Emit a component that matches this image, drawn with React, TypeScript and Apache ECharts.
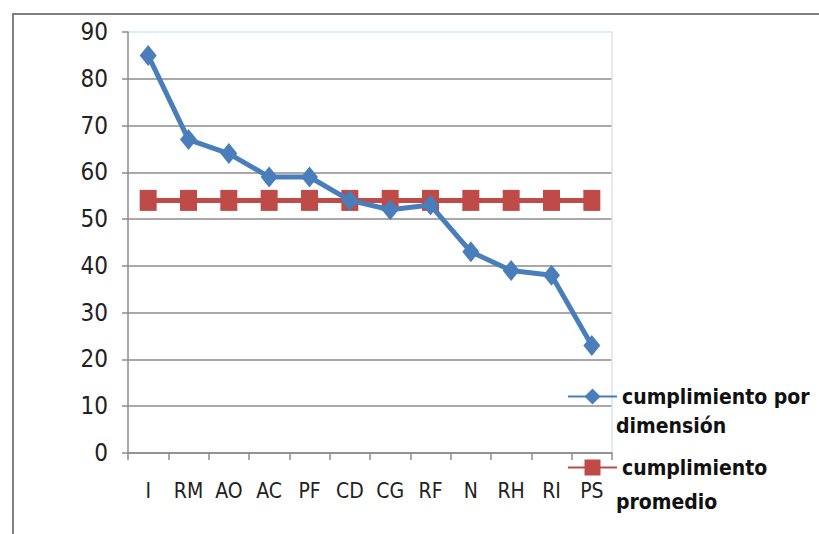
import React, { useEffect, useRef } from "react";
import * as echarts from "echarts";

const categories = ["I", "RM", "AO", "AC", "PF", "CD", "CG", "RF", "N", "RH", "RI", "PS"];
const cumplimientoPorDimension = [85, 67, 64, 59, 59, 54, 52, 53, 43, 39, 38, 23];
const cumplimientoPromedio = [54, 54, 54, 54, 54, 54, 54, 54, 54, 54, 54, 54];
const seriesNames = ["cumplimiento por dimensión", "cumplimiento promedio"];
const yTicks = { min: 0, max: 90, interval: 10 };

const FONT = "'Liberation Sans Narrow', 'DejaVu Sans Condensed', 'Open Sans', sans-serif";

export default function App() {
  const ref = useRef<HTMLDivElement>(null);
  useEffect(() => {
    document.body.style.margin = "0";
    const chart = echarts.init(ref.current!, null, { renderer: "svg" });
    const gridColors = ["#8c8c8c", "#8c8c8c", "#8c8c8c", "#8c8c8c", "#8c8c8c", "#8c8c8c", "#8c8c8c", "#8c8c8c", "#8c8c8c", "#d6e6ee"];
    const legendText = { fontFamily: FONT, fontSize: 21, fontWeight: "bold", color: "#111" };
    chart.setOption({
      animation: false,
      backgroundColor: "#ffffff",
      grid: { left: 128, top: 32, right: 207, bottom: 81 },
      legend: [
        {
          data: [seriesNames[0]],
          left: 562,
          top: 381,
          itemWidth: 49,
          itemHeight: 20,
          formatter: () => "cumplimiento por",
          textStyle: legendText,
        },
        {
          data: [seriesNames[1]],
          left: 562,
          top: 452,
          itemWidth: 49,
          itemHeight: 20,
          formatter: () => "cumplimiento",
          textStyle: legendText,
        },
      ],
      xAxis: {
        type: "category",
        data: categories,
        boundaryGap: true,
        axisLine: { lineStyle: { color: "#8c8c8c", width: 1.5 } },
        axisTick: { show: true, length: 7, inside: false, lineStyle: { color: "#8c8c8c", width: 1.5 } },
        axisLabel: { fontFamily: FONT, fontSize: 21, color: "#222", margin: 27 },
      },
      yAxis: [
        {
          type: "value",
          min: yTicks.min,
          max: yTicks.max,
          interval: yTicks.interval,
          axisLine: { show: true, lineStyle: { color: "#8c8c8c", width: 1.5 } },
          axisTick: { show: true, length: 6, lineStyle: { color: "#8c8c8c", width: 1.5 } },
          axisLabel: { fontFamily: FONT, fontSize: 24, color: "#222", margin: 20 },
          splitLine: { show: true, lineStyle: { color: gridColors, width: 1.5 } },
        },
        {
          type: "value",
          min: yTicks.min,
          max: yTicks.max,
          interval: yTicks.interval,
          position: "right",
          axisLine: { show: true, lineStyle: { color: "#d6e6ee", width: 1.5 } },
          axisTick: { show: false },
          axisLabel: { show: false },
          splitLine: { show: false },
        },
      ],
      series: [
        {
          name: seriesNames[0],
          type: "line",
          data: cumplimientoPorDimension,
          symbol: "diamond",
          symbolSize: [17, 21],
          lineStyle: { color: "#4a7ebb", width: 5 },
          itemStyle: { color: "#4a7ebb" },
          z: 3,
        },
        {
          name: seriesNames[1],
          type: "line",
          data: cumplimientoPromedio,
          symbol: "rect",
          symbolSize: [17, 21],
          lineStyle: { color: "#be4b48", width: 5 },
          itemStyle: { color: "#be4b48" },
          z: 2,
        },
      ],
      graphic: [
        {
          type: "rect",
          shape: { x: 13, y: 14, width: 900, height: 700 },
          style: { fill: "none", stroke: "#808080", lineWidth: 2 },
          silent: true,
        },
        {
          type: "text",
          left: 616,
          top: 415,
          style: { text: "dimensión", fontFamily: FONT, fontSize: 21, fontWeight: "bold", fill: "#111" },
        },
        {
          type: "text",
          left: 616,
          top: 491,
          style: { text: "promedio", fontFamily: FONT, fontSize: 21, fontWeight: "bold", fill: "#111" },
        },
      ],
    });
    return () => chart.dispose();
  }, []);
  return <div ref={ref} style={{ position: "fixed", left: 0, top: 0, width: 819, height: 534 }} />;
}
